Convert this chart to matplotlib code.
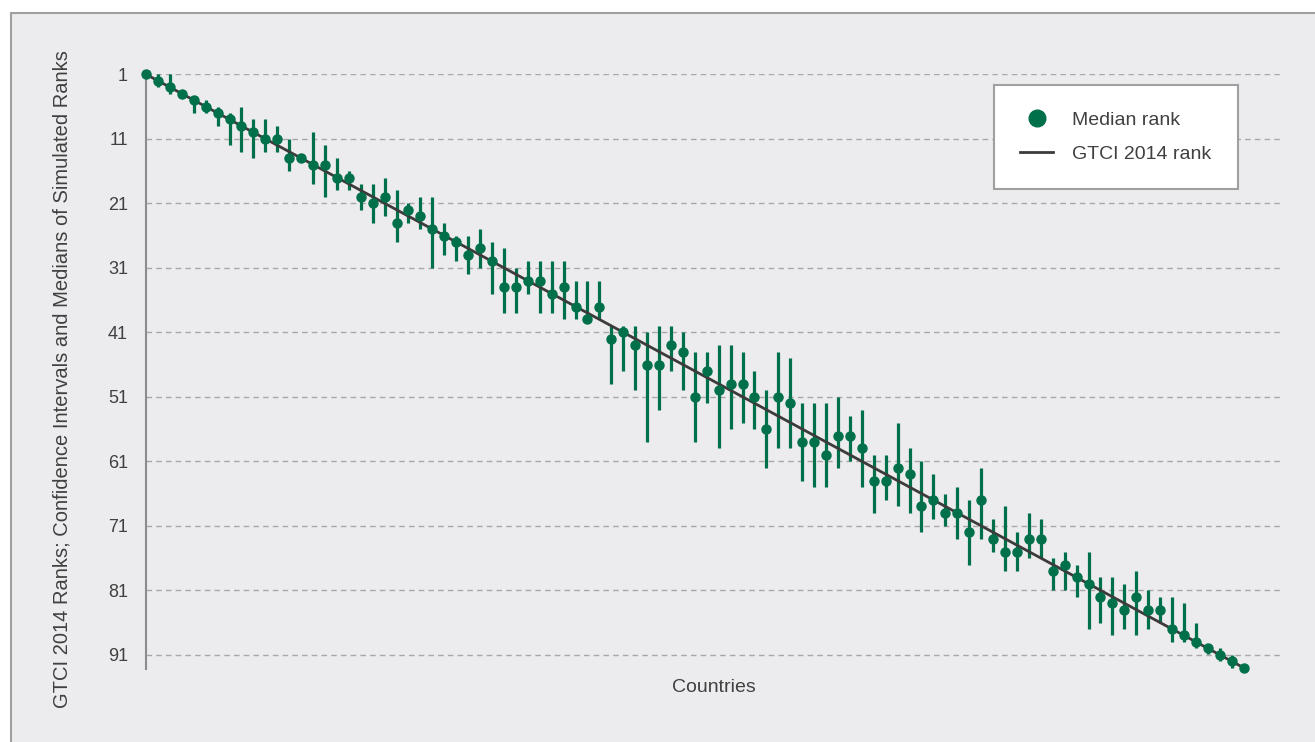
import matplotlib
matplotlib.use('Agg')
import matplotlib.pyplot as plt
from matplotlib.patches import Rectangle
from matplotlib.lines import Line2D

plt.rcParams['font.family'] = ['Liberation Sans', 'DejaVu Sans']

GREEN = '#00704a'
DARK = '#3d3a3a'
TEXT = '#404040'

# GTCI 2014 rank of each country (x position and reference line)
gtci_rank = list(range(1, 94))

# median of simulated ranks
median_rank = [1, 2, 3, 4, 5, 6, 7, 8, 9, 10,
               11, 11, 14, 14, 15, 15, 17, 17, 20, 21,
               20, 24, 22, 23, 25, 26, 27, 29, 28, 30,
               34, 34, 33, 33, 35, 34, 37, 39, 37, 42,
               41, 43, 46, 46, 43, 44, 51, 47, 50, 49,
               49, 51, 56, 51, 52, 58, 58, 60, 57, 57,
               59, 64, 64, 62, 63, 68, 67, 69, 69, 72,
               67, 73, 75, 75, 73, 73, 78, 77, 79, 80,
               82, 83, 84, 82, 84, 84, 87, 88, 89, 90,
               91, 92, 93]

# confidence interval bounds of simulated ranks
ci_low = [1, 1, 1, 4, 4.5, 5, 6, 7, 6, 8,
          8, 9, 11, 14, 10, 12, 14, 16, 18, 18,
          17, 19, 21, 20, 20, 24, 26, 26, 25, 27,
          28, 31, 30, 30, 30, 30, 33, 33, 33, 40,
          40, 40, 41, 40, 40, 41, 44, 44, 43, 43,
          44, 47, 50, 44, 45, 52, 52, 52, 51, 54,
          53, 60, 60, 55, 59, 61, 63, 66, 65, 67,
          62, 70, 68, 72, 69, 70, 76, 75, 77, 75,
          79, 79, 80, 78, 81, 82, 82, 83, 86, 89.5,
          90, 91, 93]

ci_high = [1, 3, 4, 4, 7, 7, 9, 12, 13, 14,
           13, 13, 16, 14, 18, 20, 19, 19, 22, 24,
           23, 27, 24, 25, 31, 29, 30, 32, 31, 35,
           38, 38, 35, 38, 38, 39, 39, 39, 39, 49,
           47, 50, 58, 53, 47, 50, 58, 52, 59, 56,
           55, 56, 62, 59, 59, 64, 65, 65, 62, 61,
           65, 69, 67, 68, 69, 72, 70, 71, 73, 77,
           73, 75, 78, 78, 76, 76, 81, 81, 82, 87,
           86, 88, 87, 88, 87, 86, 89, 89, 90, 90.8,
           92, 93, 93]

y_ticks = [1, 11, 21, 31, 41, 51, 61, 71, 81, 91]

W, H = 1315, 742
fig = plt.figure(figsize=(W / 100, H / 100), dpi=100)
fig.patch.set_facecolor('white')

# grey panel behind the chart
fig.patches.append(Rectangle((11 / W, -0.05), 1.1, 1.05 - 13 / H,
                             transform=fig.transFigure, facecolor='#ececee',
                             edgecolor='#a0a0a0', lw=1.5, zorder=-1))

ax = fig.add_axes([146 / W, 1 - 669 / H, (1283 - 146) / W, (669 - 74.3) / H])
ax.set_facecolor('none')

ax.vlines(gtci_rank, ci_low, ci_high, color=GREEN, lw=2.3, zorder=2)
ax.plot(gtci_rank, gtci_rank, color=DARK, lw=2.0, zorder=3)
ax.plot(gtci_rank, median_rank, 'o', ms=6.5, color=GREEN, zorder=4, clip_on=False)

ax.set_xlim(1, 96.3)
ax.set_ylim(93.2, 1)
ax.set_xticks([])
ax.set_yticks(y_ticks)
ax.tick_params(axis='y', length=0, pad=13, labelsize=13, labelcolor=TEXT)
ax.yaxis.grid(True, linestyle=(0, (4, 3)), color='#a8a8a8', lw=1)
ax.set_axisbelow(True)

for side in ['top', 'right', 'bottom']:
    ax.spines[side].set_visible(False)
ax.spines['left'].set_color('#8c8c8c')
ax.spines['left'].set_linewidth(1.5)

fig.text(62 / W, 1 - 379 / H,
         'GTCI 2014 Ranks; Confidence Intervals and Medians of Simulated Ranks',
         rotation=90, ha='center', va='center', fontsize=14.5, color=TEXT)
fig.text(714 / W, 1 - 688 / H, 'Countries', ha='center', va='center',
         fontsize=14, color=TEXT)

handles = [Line2D([], [], marker='o', ls='none', color=GREEN, ms=12),
           Line2D([], [], color=DARK, lw=2)]
leg = ax.legend(handles, ['Median rank', 'GTCI 2014 rank'], loc='upper right',
                bbox_to_anchor=(0.9604, 0.982), prop={'size': 14},
                fancybox=False, framealpha=1, edgecolor='#a0a0a0',
                borderpad=1.35, labelspacing=0.85, handlelength=1.7,
                handletextpad=1.0, borderaxespad=0)
leg.get_frame().set_linewidth(1.5)
for t in leg.get_texts():
    t.set_color(TEXT)

fig.savefig('out.png', dpi=100)
